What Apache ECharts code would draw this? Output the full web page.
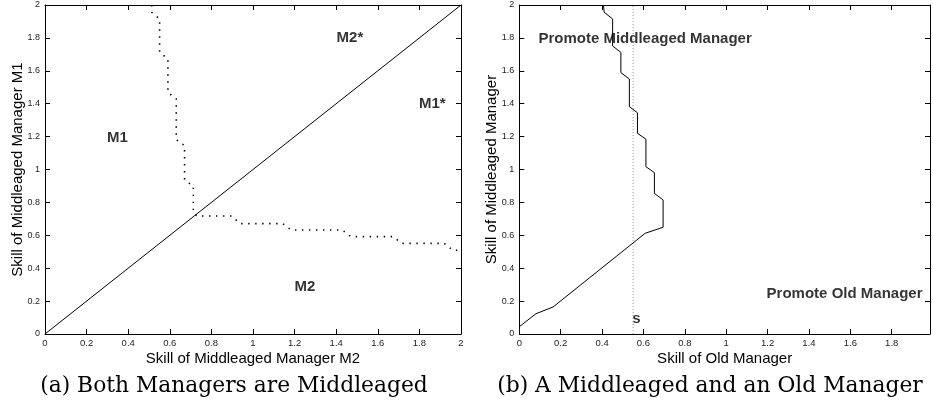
<!DOCTYPE html>
<html><head><meta charset="utf-8">
<script src="https://cdn.jsdelivr.net/npm/echarts@6/dist/echarts.min.js"></script>
<style>html,body{margin:0;padding:0;background:#fff}#c{width:933px;height:416px}</style>
</head><body><div id="c"></div>
<script>
// ---- data ----
var leftDiagonal = [[0, 0], [2, 2]];
// dotted boundary, left panel: [M2 skill, M1 skill]
var leftBoundaryX = [0.513, 0.513, 0.551, 0.551, 0.591, 0.591, 0.631, 0.631, 0.671, 0.671, 0.713, 0.713, 0.732, 0.897, 0.939, 1.144, 1.183, 1.429, 1.470, 1.674, 1.715, 1.920, 1.960, 2.000];
var leftBoundaryY = [2.000, 1.956, 1.915, 1.712, 1.672, 1.469, 1.429, 1.182, 1.145, 0.938, 0.898, 0.736, 0.717, 0.717, 0.671, 0.671, 0.632, 0.632, 0.592, 0.592, 0.551, 0.551, 0.509, 0.509];
var leftLabels = ['M2*', 'M1*', 'M1', 'M2'];
var leftLabelX = [1.466, 1.862, 0.348, 1.250];
var leftLabelY = [1.800, 1.396, 1.193, 0.288];
// solid boundary, right panel: [old skill, middleaged skill]
var rightBoundaryX = [0.407, 0.410, 0.451, 0.451, 0.491, 0.491, 0.532, 0.532, 0.571, 0.571, 0.612, 0.612, 0.653, 0.653, 0.695, 0.695, 0.608, 0.163, 0.080, 0.000];
var rightBoundaryY = [2.000, 1.956, 1.915, 1.751, 1.712, 1.589, 1.550, 1.382, 1.345, 1.220, 1.184, 1.017, 0.981, 0.855, 0.815, 0.649, 0.612, 0.164, 0.123, 0.044];
var sValue = 0.55;
var rightLabels = ['Promote Middleaged Manager', 'Promote Old Manager', 's'];
var rightLabelX = [0.608, 1.572, 0.566];
var rightLabelY = [1.793, 0.247, 0.091];
var tickLabels = ['0', '0.2', '0.4', '0.6', '0.8', '1', '1.2', '1.4', '1.6', '1.8', '2'];
var xTitleLeft = 'Skill of Middleaged Manager M2';
var yTitleLeft = 'Skill of Middleaged Manager M1';
var xTitleRight = 'Skill of Old Manager';
var yTitleRight = 'Skill of Middleaged Manager';
var captionA = '(a) Both Managers are Middleaged';
var captionB = '(b) A Middleaged and an Old Manager';

// ---- build ----
function zip(a, b) { return a.map(function (v, i) { return [v, b[i]]; }); }
function labelData(names, xs, ys) { return names.map(function (n, i) { return { name: n, value: [xs[i], ys[i]] }; }); }
var SANS = '"Liberation Sans", Arial, sans-serif';
var lineCol = '#000';
function fmt(v) {
  if (Math.abs(v * 5 - Math.round(v * 5)) > 1e-6) return '';
  var s = String(Math.round(v * 10) / 10);
  return tickLabels.indexOf(s) >= 0 ? s : '';
}

function mkX(grid, max, pos, name, showLabel) {
  return {
    type: 'value', gridIndex: grid, min: 0, max: max, interval: 0.2, position: pos,
    name: name, nameLocation: 'middle', nameGap: 17, nameMoveOverlap: false,
    nameTextStyle: { fontFamily: SANS, fontSize: 15, color: '#000' },
    axisLine: { show: true, onZero: false, lineStyle: { color: lineCol, width: 1 } },
    axisTick: { show: true, inside: true, length: 5, lineStyle: { color: lineCol } },
    axisLabel: { show: showLabel, fontFamily: SANS, fontSize: 9.5, color: '#222', margin: 4, formatter: fmt, showMaxLabel: true },
    splitLine: { show: false }
  };
}
function mkY(grid, pos, name, showLabel) {
  return {
    type: 'value', gridIndex: grid, min: 0, max: 2, interval: 0.2, position: pos,
    name: name, nameLocation: 'middle', nameGap: 20, nameMoveOverlap: false,
    nameTextStyle: { fontFamily: SANS, fontSize: 15, color: '#000' },
    axisLine: { show: true, onZero: false, lineStyle: { color: lineCol, width: 1 } },
    axisTick: { show: true, inside: true, length: 5, lineStyle: { color: lineCol } },
    axisLabel: { show: showLabel, fontFamily: SANS, fontSize: 9, color: '#222', margin: 5, formatter: fmt },
    splitLine: { show: false }
  };
}
var lblStyle = { show: true, position: 'inside', formatter: '{b}', fontFamily: SANS, fontSize: 15, fontWeight: 'bold', color: '#000' };

var option = {
  animation: false,
  backgroundColor: '#fff',
  grid: [
    { left: 45, top: 5, width: 416, height: 329 },
    { left: 519.3, top: 5, width: 413.4, height: 329 }
  ],
  xAxis: [
    mkX(0, 2, 'bottom', xTitleLeft, true),
    mkX(0, 2, 'top', '', false),
    mkX(1, 1.985, 'bottom', xTitleRight, true),
    mkX(1, 1.985, 'top', '', false)
  ],
  yAxis: [
    mkY(0, 'left', yTitleLeft, true),
    mkY(0, 'right', '', false),
    mkY(1, 'left', yTitleRight, true),
    mkY(1, 'right', '', false)
  ],
  graphic: [
    { type: 'text', x: 234, y: 386, style: { text: captionA, font: '21.8px "DejaVu Serif", serif', fill: '#000', align: 'center', verticalAlign: 'middle' } },
    { type: 'text', x: 710, y: 386, style: { text: captionB, font: '21.8px "DejaVu Serif", serif', fill: '#000', align: 'center', verticalAlign: 'middle' } }
  ],
  series: [
    { type: 'line', xAxisIndex: 0, yAxisIndex: 0, data: leftDiagonal, symbol: 'none', lineStyle: { color: '#000', width: 1 } },
    { type: 'line', xAxisIndex: 0, yAxisIndex: 0, data: zip(leftBoundaryX, leftBoundaryY), symbol: 'none',
      lineStyle: { color: '#000', width: 1.6, type: [1.4, 5.6], cap: 'butt' } },
    { type: 'scatter', xAxisIndex: 0, yAxisIndex: 0, symbolSize: 0, data: labelData(leftLabels, leftLabelX, leftLabelY), label: lblStyle, silent: true },
    { type: 'line', xAxisIndex: 2, yAxisIndex: 2, data: [[sValue, 0], [sValue, 2]], symbol: 'none',
      lineStyle: { color: '#999', width: 1, type: [1, 2] } },
    { type: 'line', xAxisIndex: 2, yAxisIndex: 2, data: zip(rightBoundaryX, rightBoundaryY), symbol: 'none', lineStyle: { color: '#000', width: 1 } },
    { type: 'scatter', xAxisIndex: 2, yAxisIndex: 2, symbolSize: 0, data: labelData(rightLabels, rightLabelX, rightLabelY), label: lblStyle, silent: true }
  ]
};
var chart = echarts.init(document.getElementById('c'), null, { renderer: 'canvas' });
chart.setOption(option);
</script></body></html>
